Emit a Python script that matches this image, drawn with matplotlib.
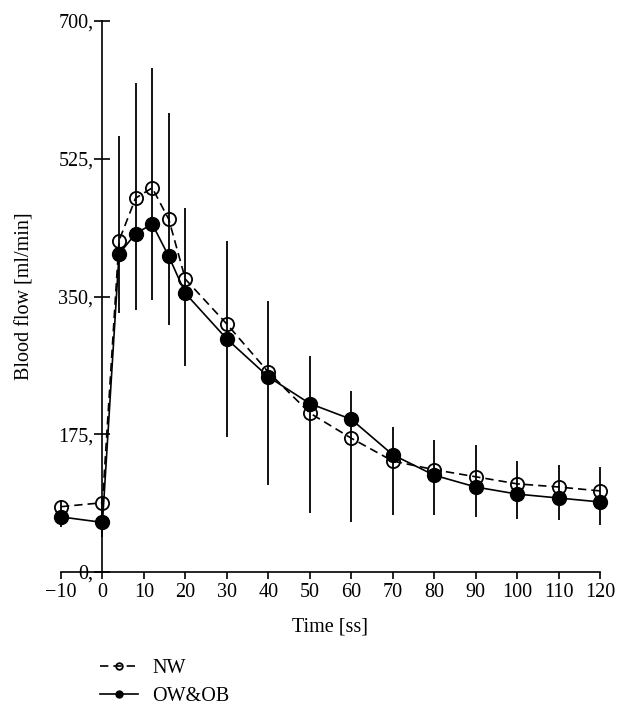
import matplotlib
matplotlib.use("Agg")
from matplotlib import pyplot as plt

plt.rcParams["font.family"] = ["Liberation Serif", "DejaVu Serif"]

# Time points [s] and group means [ml/min]
time = [-10, 0, 4, 8, 12, 16, 20, 30, 40, 50, 60, 70, 80, 90, 100, 110, 120]
nw = [83, 88, 421, 475, 488, 448, 372, 315, 254, 202, 170, 141, 130, 121, 112, 108, 103]
ow_ob = [70, 63, 404, 430, 442, 401, 354, 296, 248, 214, 194, 149, 123, 108, 99, 94, 89]

# spread shown as vertical bars (lower / upper end)
err_low = [57, 45, 329, 333, 346, 314, 262, 172, 111, 75, 63, 73, 72, 70, 67, 66, 60]
err_high = [92, 94, 554, 621, 640, 583, 463, 420, 344, 274, 230, 184, 168, 161, 141, 136, 133]

xticks = [-10, 0, 10, 20, 30, 40, 50, 60, 70, 80, 90, 100, 110, 120]
xtick_labels = ["\u221210", "0", "10", "20", "30", "40", "50", "60", "70", "80",
                "90", "100", "110", "120"]
yticks = [0, 175, 350, 525, 700]
ytick_labels = ["0,", "175,", "350,", "525,", "700,"]

fig = plt.figure(figsize=(6.3, 7.16), dpi=100)
ax = fig.add_axes([61 / 630, 1 - 572 / 716, 539 / 630, 551 / 716])

ax.vlines(time, err_low, err_high, color="black", lw=1.3, zorder=2, clip_on=False)
ax.plot(time, nw, color="black", lw=1.2, dashes=(5, 3), marker="o", ms=9.5,
        mfc="none", mec="black", mew=1.3, zorder=3, clip_on=False, label="NW")
ax.plot(time, ow_ob, color="black", lw=1.2, marker="o", ms=10,
        mfc="black", mec="black", zorder=4, clip_on=False, label="OW&OB")

ax.set_xlim(-10, 120)
ax.set_ylim(0, 700)

for s in ["top", "right"]:
    ax.spines[s].set_visible(False)
ax.spines["left"].set_position(("data", 0))
ax.spines["left"].set_linewidth(1.2)
ax.spines["bottom"].set_linewidth(1.2)

ax.set_xticks(xticks, labels=xtick_labels)
ax.set_yticks(yticks, labels=ytick_labels)
ax.tick_params(axis="x", direction="out", length=5, width=1.2, labelsize=14.5, pad=3)
ax.tick_params(axis="y", direction="inout", length=11, width=1.2, labelsize=14.5, pad=1)

ax.set_xlabel("Time [ss]", fontsize=14.5, va="center")
ax.xaxis.set_label_coords(0.5, (572 - 627) / 551)
ax.set_ylabel("Blood flow [ml/min]", fontsize=14.5, va="center")
ax.yaxis.set_label_coords((25 - 61) / 539, 0.5)

handles, labels = ax.get_legend_handles_labels()
leg = ax.legend(handles, labels, loc="upper left",
                bbox_to_anchor=(100 / 630, 1 - 659 / 716),
                bbox_transform=fig.transFigure, frameon=False, fontsize=14.5,
                handlelength=1.9, handletextpad=0.7, labelspacing=0.45,
                borderpad=0, borderaxespad=0, markerscale=0.5)

fig.savefig("out.png", dpi=100)
